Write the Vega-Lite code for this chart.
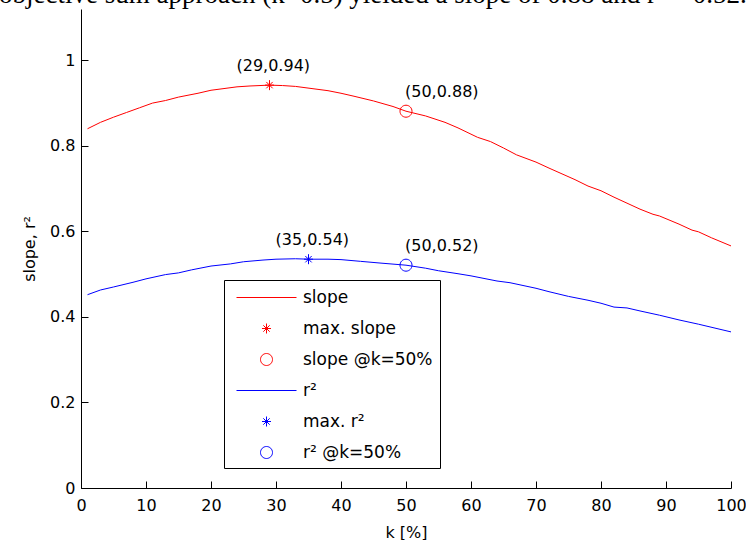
{
  "$schema": "https://vega.github.io/schema/vega-lite/v6.json",
  "width": 650,
  "height": 479,
  "autosize": {"type": "none"},
  "padding": {"left": 81, "top": 9, "right": 15, "bottom": 52},
  "background": "white",
  "title": {
    "text": "objective sum approach (k=0.5) yielded a slope of 0.88 and r² = 0.52.",
    "anchor": "start",
    "frame": "group",
    "font": "Liberation Serif",
    "fontSize": 27,
    "fontWeight": "normal",
    "color": "black",
    "baseline": "alphabetic",
    "offset": 0,
    "dx": -82,
    "dy": 21
  },
  "config": {
    "view": {"stroke": null},
    "axis": {
      "domainColor": "black",
      "tickColor": "black",
      "labelColor": "black",
      "titleColor": "black",
      "labelFont": "DejaVu Sans",
      "labelFontSize": 16,
      "titleFont": "DejaVu Sans",
      "titleFontSize": 16,
      "titleFontWeight": "normal",
      "grid": false,
      "domainWidth": 1,
      "tickWidth": 1,
      "tickSize": -7,
      "labelFlush": false,
      "labelOverlap": false
    }
  },
  "datasets": {
    "curves": [
      {"k": 1, "v": 0.840, "series": "slope"},
      {"k": 3, "v": 0.855, "series": "slope"},
      {"k": 5, "v": 0.867, "series": "slope"},
      {"k": 7, "v": 0.878, "series": "slope"},
      {"k": 9, "v": 0.889, "series": "slope"},
      {"k": 11, "v": 0.900, "series": "slope"},
      {"k": 13, "v": 0.906, "series": "slope"},
      {"k": 15, "v": 0.914, "series": "slope"},
      {"k": 18, "v": 0.923, "series": "slope"},
      {"k": 20, "v": 0.930, "series": "slope"},
      {"k": 22, "v": 0.934, "series": "slope"},
      {"k": 24, "v": 0.938, "series": "slope"},
      {"k": 26, "v": 0.940, "series": "slope"},
      {"k": 29, "v": 0.942, "series": "slope"},
      {"k": 31, "v": 0.941, "series": "slope"},
      {"k": 33, "v": 0.939, "series": "slope"},
      {"k": 36, "v": 0.933, "series": "slope"},
      {"k": 38, "v": 0.929, "series": "slope"},
      {"k": 40, "v": 0.923, "series": "slope"},
      {"k": 42, "v": 0.916, "series": "slope"},
      {"k": 45, "v": 0.905, "series": "slope"},
      {"k": 48, "v": 0.892, "series": "slope"},
      {"k": 50, "v": 0.881, "series": "slope"},
      {"k": 53, "v": 0.870, "series": "slope"},
      {"k": 56, "v": 0.855, "series": "slope"},
      {"k": 58, "v": 0.842, "series": "slope"},
      {"k": 61, "v": 0.820, "series": "slope"},
      {"k": 63, "v": 0.810, "series": "slope"},
      {"k": 65, "v": 0.795, "series": "slope"},
      {"k": 67, "v": 0.779, "series": "slope"},
      {"k": 70, "v": 0.762, "series": "slope"},
      {"k": 72, "v": 0.748, "series": "slope"},
      {"k": 76, "v": 0.721, "series": "slope"},
      {"k": 78, "v": 0.706, "series": "slope"},
      {"k": 80, "v": 0.695, "series": "slope"},
      {"k": 82, "v": 0.680, "series": "slope"},
      {"k": 84, "v": 0.666, "series": "slope"},
      {"k": 86, "v": 0.652, "series": "slope"},
      {"k": 88, "v": 0.640, "series": "slope"},
      {"k": 89, "v": 0.636, "series": "slope"},
      {"k": 92, "v": 0.617, "series": "slope"},
      {"k": 94, "v": 0.603, "series": "slope"},
      {"k": 95, "v": 0.599, "series": "slope"},
      {"k": 97, "v": 0.585, "series": "slope"},
      {"k": 100, "v": 0.566, "series": "slope"},
      {"k": 1, "v": 0.452, "series": "r²"},
      {"k": 3, "v": 0.463, "series": "r²"},
      {"k": 5, "v": 0.470, "series": "r²"},
      {"k": 8, "v": 0.481, "series": "r²"},
      {"k": 10, "v": 0.489, "series": "r²"},
      {"k": 13, "v": 0.499, "series": "r²"},
      {"k": 15, "v": 0.503, "series": "r²"},
      {"k": 17, "v": 0.510, "series": "r²"},
      {"k": 20, "v": 0.519, "series": "r²"},
      {"k": 23, "v": 0.524, "series": "r²"},
      {"k": 25, "v": 0.529, "series": "r²"},
      {"k": 28, "v": 0.533, "series": "r²"},
      {"k": 30, "v": 0.535, "series": "r²"},
      {"k": 33, "v": 0.536, "series": "r²"},
      {"k": 35, "v": 0.535, "series": "r²"},
      {"k": 38, "v": 0.535, "series": "r²"},
      {"k": 40, "v": 0.534, "series": "r²"},
      {"k": 43, "v": 0.530, "series": "r²"},
      {"k": 46, "v": 0.526, "series": "r²"},
      {"k": 50, "v": 0.521, "series": "r²"},
      {"k": 53, "v": 0.514, "series": "r²"},
      {"k": 55, "v": 0.508, "series": "r²"},
      {"k": 58, "v": 0.501, "series": "r²"},
      {"k": 60, "v": 0.496, "series": "r²"},
      {"k": 64, "v": 0.484, "series": "r²"},
      {"k": 66, "v": 0.480, "series": "r²"},
      {"k": 70, "v": 0.467, "series": "r²"},
      {"k": 72, "v": 0.459, "series": "r²"},
      {"k": 75, "v": 0.448, "series": "r²"},
      {"k": 78, "v": 0.439, "series": "r²"},
      {"k": 80, "v": 0.432, "series": "r²"},
      {"k": 82, "v": 0.423, "series": "r²"},
      {"k": 84, "v": 0.421, "series": "r²"},
      {"k": 86, "v": 0.414, "series": "r²"},
      {"k": 89, "v": 0.404, "series": "r²"},
      {"k": 92, "v": 0.393, "series": "r²"},
      {"k": 95, "v": 0.383, "series": "r²"},
      {"k": 100, "v": 0.365, "series": "r²"}
    ],
    "marks": [
      {"k": 29, "v": 0.942, "series": "max. slope", "kind": "max", "label": "(29,0.94)"},
      {"k": 50, "v": 0.881, "series": "slope @k=50%", "kind": "k50", "label": "(50,0.88)"},
      {"k": 35, "v": 0.535, "series": "max. r²", "kind": "max", "label": "(35,0.54)"},
      {"k": 50, "v": 0.521, "series": "r² @k=50%", "kind": "k50", "label": "(50,0.52)"}
    ]
  },
  "encoding": {
    "x": {
      "field": "k",
      "type": "quantitative",
      "scale": {"domain": [0, 100], "nice": false},
      "axis": {"values": [0, 10, 20, 30, 40, 50, 60, 70, 80, 90, 100], "title": "k [%]", "labelPadding": 16, "titlePadding": 11}
    },
    "y": {
      "field": "v",
      "type": "quantitative",
      "scale": {"domain": [0, 1.12], "nice": false, "zero": false},
      "axis": {"values": [0, 0.2, 0.4, 0.6, 0.8, 1], "format": "~g", "title": "slope, r²", "labelPadding": 13, "titlePadding": 12}
    }
  },
  "layer": [
    {
      "data": {"name": "curves"},
      "mark": {"type": "line", "strokeWidth": 1},
      "encoding": {
        "color": {
          "field": "series",
          "type": "nominal",
          "scale": {
            "domain": ["slope", "max. slope", "slope @k=50%", "r²", "max. r²", "r² @k=50%"],
            "range": ["#ff0000", "#ff0000", "#ff0000", "#0000ff", "#0000ff", "#0000ff"]
          },
          "legend": {
            "orient": "none",
            "legendX": 143,
            "legendY": 271,
            "title": null,
            "strokeColor": "black",
            "fillColor": "white",
            "padding": 7,
            "symbolSize": 400,
            "symbolStrokeWidth": 1,
            "symbolOffset": 25,
            "labelOffset": 26,
            "labelFont": "DejaVu Sans",
            "labelFontSize": 17,
            "labelColor": "black",
            "rowPadding": 12
          }
        }
      }
    },
    {
      "data": {"name": "marks"},
      "mark": {"type": "point", "filled": false, "size": 400, "strokeWidth": 1, "opacity": 1},
      "encoding": {
        "color": {"field": "series", "type": "nominal"},
        "shape": {
          "field": "series",
          "type": "nominal",
          "scale": {
            "domain": ["slope", "max. slope", "slope @k=50%", "r²", "max. r²", "r² @k=50%"],
            "range": [
              "M-3,0H3",
              "M0,-0.5V0.5M-0.45,0H0.45M-0.32,-0.32L0.32,0.32M-0.32,0.32L0.32,-0.32",
              "M0.6,0A0.6,0.6,0,1,1,-0.6,0A0.6,0.6,0,1,1,0.6,0Z",
              "M-3,0H3",
              "M0,-0.5V0.5M-0.45,0H0.45M-0.32,-0.32L0.32,0.32M-0.32,0.32L0.32,-0.32",
              "M0.6,0A0.6,0.6,0,1,1,-0.6,0A0.6,0.6,0,1,1,0.6,0Z"
            ]
          }
        }
      }
    },
    {
      "data": {"name": "marks"},
      "transform": [{"filter": "datum.kind === 'max'"}],
      "mark": {"type": "text", "align": "left", "baseline": "middle", "dx": -33, "dy": -19, "font": "DejaVu Sans", "fontSize": 16, "color": "black"},
      "encoding": {"text": {"field": "label"}}
    },
    {
      "data": {"name": "marks"},
      "transform": [{"filter": "datum.kind === 'k50'"}],
      "mark": {"type": "text", "align": "left", "baseline": "middle", "dx": -1, "dy": -19, "font": "DejaVu Sans", "fontSize": 16, "color": "black"},
      "encoding": {"text": {"field": "label"}}
    }
  ]
}
